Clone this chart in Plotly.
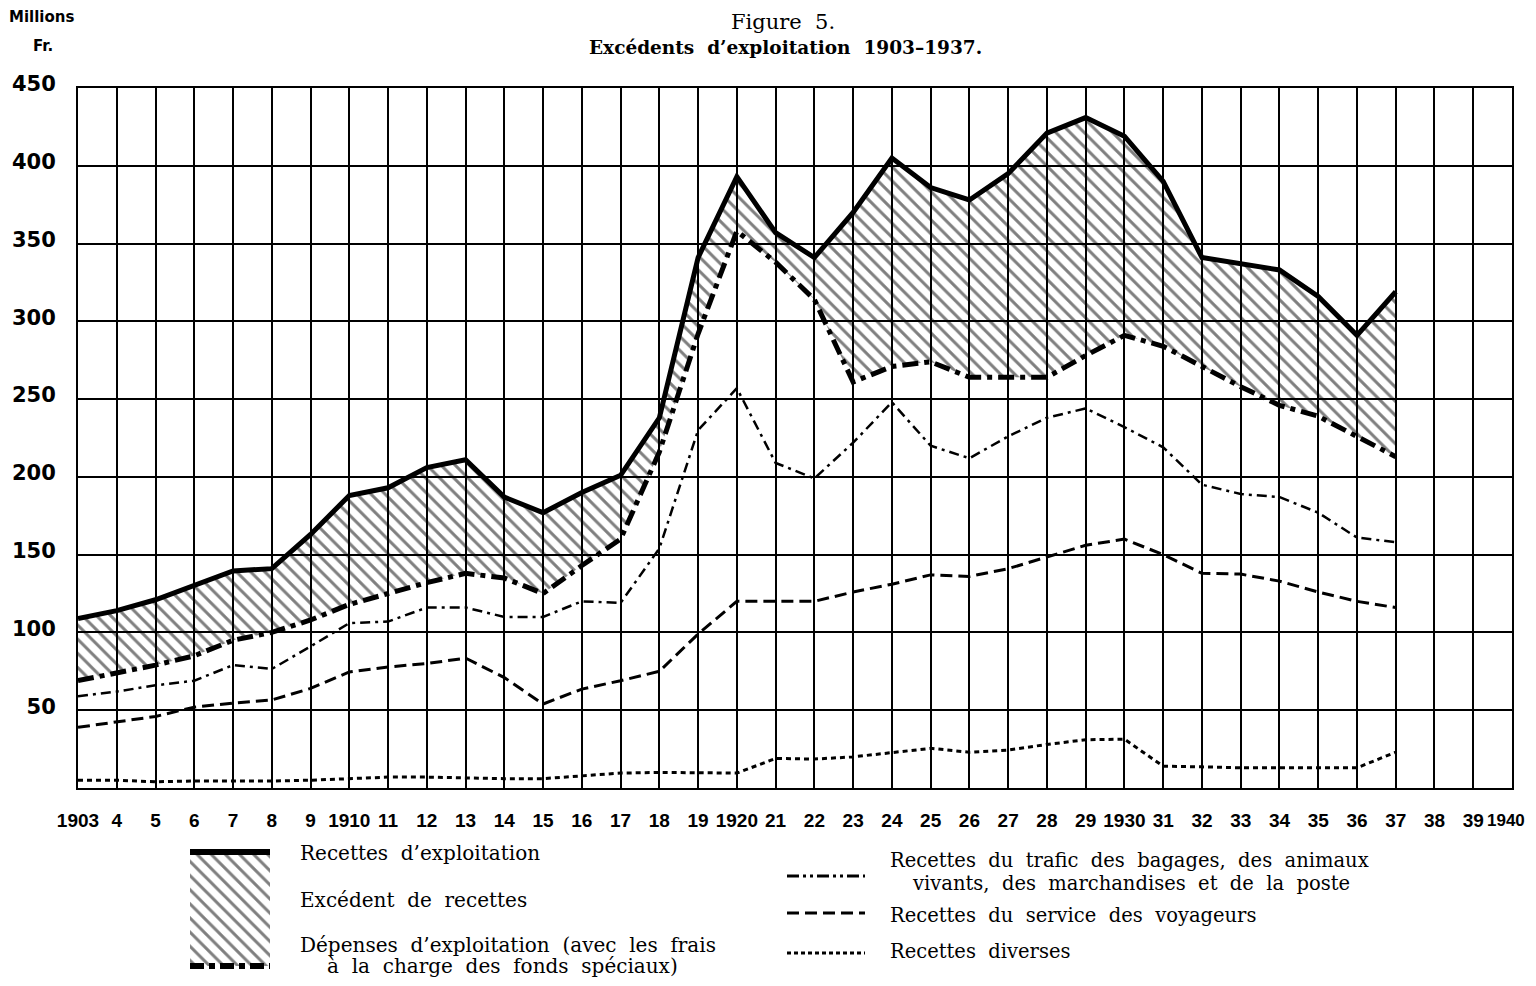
import plotly.graph_objects as go

# Page is offset by the 8px default body margin, so the figure is 1520x970
OFF = 8
W, H = 1520, 970

years = list(range(1903, 1938))
recettes = [109, 114, 121, 130, 139.5, 141, 163, 188, 193, 206,
            211, 187, 177, 190, 201, 238, 341, 393, 357, 341,
            370, 405, 386, 378, 395, 421, 431, 419, 390, 341,
            337, 333, 316, 291, 319]
depenses = [69, 74, 79, 85, 95, 100, 108, 118, 125, 132,
            138, 135, 125, 143, 160, 216, 292, 358, 338, 314,
            261, 271, 274, 264, 264, 264, 278, 291, 284, 271,
            258, 246, 239, 226, 213]
trafic = [59, 62, 66, 69, 79, 76.5, 91, 106, 107, 116,
          116, 110, 110, 120, 119, 154, 230, 257, 209, 199,
          222, 248, 220, 212, 226, 238, 244, 232, 219, 195,
          189, 187, 177, 161, 158]
voyageurs = [39, 42.5, 46, 52, 54.6, 56.6, 64, 74.6, 77.8, 80,
             83.5, 71, 54, 63.6, 69, 75, 99, 120, 120, 120,
             126, 131, 137, 136, 141, 148.5, 156, 160, 150, 138,
             137.5, 133, 126, 120, 116]
diverses = [5, 5, 4, 4.5, 4.5, 4.5, 5, 6, 7, 7,
            6.5, 6, 6, 8, 9.6, 10, 9.6, 9.6, 19, 18.6,
            20, 22.6, 25.5, 23, 24.4, 28, 31, 31.4, 14, 13.6,
            13, 13, 13, 13, 23]

x_tick_years = list(range(1903, 1941))
x_tick_labels = ["1903", "4", "5", "6", "7", "8", "9", "1910", "11", "12", "13", "14", "15",
                 "16", "17", "18", "19", "1920", "21", "22", "23", "24", "25", "26", "27",
                 "28", "29", "1930", "31", "32", "33", "34", "35", "36", "37", "38", "39", "1940"]
y_tick_vals = [0, 50, 100, 150, 200, 250, 300, 350, 400, 450]
y_tick_labels = ["", "50", "100", "150", "200", "250", "300", "350", "400", "450"]

SERIF = "DejaVu Serif, Liberation Serif, serif"
SANS_BOLD_WIDE = "DejaVu Sans, Arial, sans-serif"
SANS_NARROW = "Liberation Sans Narrow, Liberation Sans, Arial, sans-serif"

DASHDOT_THICK = "16px,6px,5px,6px"
DASHDOT_THIN = "10px,5px,3px,5px"
DASHED = "12px,6px"
DOTTED = "5px,4px"
HATCH = dict(shape="\\", fgcolor="black", bgcolor="rgba(0,0,0,0)", size=10, solidity=0.3)
XTICK_FONT = dict(family=SANS_NARROW, size=19, color="black", weight="bold")


def px(x):
    return (x - OFF) / W


def py(y):
    return 1 - (y - OFF) / H


fig = go.Figure()

fig.add_trace(go.Scatter(x=years, y=depenses, mode="lines",
                         line=dict(color="black", width=5, dash=DASHDOT_THICK)))
fig.add_trace(go.Scatter(x=years, y=recettes, mode="lines", fill="tonexty",
                         fillcolor="rgba(0,0,0,0)", fillpattern=HATCH,
                         line=dict(color="black", width=5)))
fig.add_trace(go.Scatter(x=years, y=trafic, mode="lines",
                         line=dict(color="black", width=2.5, dash=DASHDOT_THIN)))
fig.add_trace(go.Scatter(x=years, y=voyageurs, mode="lines",
                         line=dict(color="black", width=3, dash=DASHED)))
fig.add_trace(go.Scatter(x=years, y=diverses, mode="lines",
                         line=dict(color="black", width=3, dash=DOTTED)))

# ---- custom legend drawn on an overlay axis in page-pixel units ----
LX = "x2"
LY = "y2"
fig.add_trace(go.Scatter(x=[190, 270, 270, 190, 190], y=[852, 852, 966, 966, 852],
                         xaxis=LX, yaxis=LY, mode="lines", fill="toself",
                         fillcolor="rgba(0,0,0,0)", fillpattern=HATCH,
                         line=dict(width=0, color="rgba(0,0,0,0)")))
fig.add_trace(go.Scatter(x=[190, 270], y=[852, 852], xaxis=LX, yaxis=LY, mode="lines",
                         line=dict(color="black", width=6)))
fig.add_trace(go.Scatter(x=[190, 270], y=[966, 966], xaxis=LX, yaxis=LY, mode="lines",
                         line=dict(color="black", width=6, dash="14px,5px,6px,5px")))
fig.add_trace(go.Scatter(x=[787, 865], y=[876, 876], xaxis=LX, yaxis=LY, mode="lines",
                         line=dict(color="black", width=3, dash="12px,4px,3px,4px,3px,4px")))
fig.add_trace(go.Scatter(x=[787, 865], y=[913, 913], xaxis=LX, yaxis=LY, mode="lines",
                         line=dict(color="black", width=3, dash=DASHED)))
fig.add_trace(go.Scatter(x=[787, 865], y=[953, 953], xaxis=LX, yaxis=LY, mode="lines",
                         line=dict(color="black", width=3, dash="4px,3px")))

grid = dict(showgrid=True, gridcolor="black", gridwidth=2, showline=True, linecolor="black",
            linewidth=2, mirror=True, ticks="", zeroline=False, fixedrange=True, automargin=False)

# the last year label sits at the right page edge: draw it as a right-aligned text instead
axis_tick_text = x_tick_labels[:-1] + [""]

fig.update_layout(
    width=W, height=H, margin=dict(l=0, r=0, t=0, b=0, pad=0, autoexpand=False),
    paper_bgcolor="white", plot_bgcolor="rgba(0,0,0,0)", showlegend=False,
    xaxis=dict(domain=[px(78), px(1512)], range=[1903, 1940], tickmode="array",
               tickvals=x_tick_years, ticktext=axis_tick_text, ticklabelstandoff=14, tickangle=0,
               ticklabeloverflow="allow", tickfont=XTICK_FONT, **grid),
    yaxis=dict(domain=[py(788), py(88)], range=[0, 450], tickmode="array",
               tickvals=y_tick_vals, ticktext=y_tick_labels, ticklabelstandoff=16,
               ticklabelshift=-4, ticklabeloverflow="allow",
               tickfont=dict(family=SANS_BOLD_WIDE, size=21, color="black", weight="bold"),
               **grid),
    xaxis2=dict(domain=[0, 1], range=[OFF, OFF + W], visible=False, fixedrange=True, anchor="y2",
                automargin=False),
    yaxis2=dict(domain=[0, py(835)], range=[OFF + H, 835], visible=False, fixedrange=True,
                anchor="x2", automargin=False),
)

annotations = [
    dict(x=px(1527), y=py(820), text=x_tick_labels[-1], xanchor="right",
         font=dict(XTICK_FONT, size=17)),
    dict(x=px(41), y=py(17), text="<b>Millions</b>", font=dict(family=SANS_BOLD_WIDE, size=15)),
    dict(x=px(43), y=py(46), text="<b>Fr.</b>", font=dict(family=SANS_BOLD_WIDE, size=15)),
    dict(x=px(783), y=py(OFF), text="Figure  5.", yanchor="top", font=dict(family=SERIF, size=21)),
    dict(x=px(785), y=py(48), text="<b>Excédents  d’exploitation  1903–1937.</b>",
         font=dict(family=SERIF, size=18.5)),
    dict(x=px(298), y=py(853), text="Recettes  d’exploitation", xanchor="left",
         font=dict(family=SERIF, size=20)),
    dict(x=px(298), y=py(900), text="Excédent  de  recettes", xanchor="left",
         font=dict(family=SERIF, size=20)),
    dict(x=px(298), y=py(945), text="Dépenses  d’exploitation  (avec  les  frais", xanchor="left",
         font=dict(family=SERIF, size=20)),
    dict(x=px(325), y=py(966), text="à  la  charge  des  fonds  spéciaux)", xanchor="left",
         font=dict(family=SERIF, size=20)),
    dict(x=px(888), y=py(860), text="Recettes  du  trafic  des  bagages,  des  animaux", xanchor="left",
         font=dict(family=SERIF, size=19.5)),
    dict(x=px(910), y=py(883), text="vivants,  des  marchandises  et  de  la  poste", xanchor="left",
         font=dict(family=SERIF, size=19.5)),
    dict(x=px(888), y=py(915), text="Recettes  du  service  des  voyageurs", xanchor="left",
         font=dict(family=SERIF, size=19.5)),
    dict(x=px(888), y=py(951), text="Recettes  diverses", xanchor="left",
         font=dict(family=SERIF, size=19.5)),
]
for a in annotations:
    a.setdefault("xanchor", "center")
    a.setdefault("yanchor", "middle")
    a.update(xref="paper", yref="paper", showarrow=False)
    a["font"]["color"] = "black"
fig.update_layout(annotations=annotations)

fig.write_html("out.html")
